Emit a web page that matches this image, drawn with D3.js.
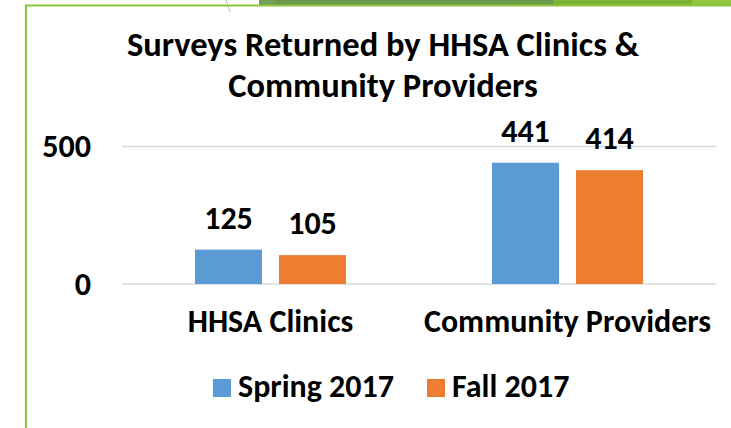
<!DOCTYPE html>
<html><head><meta charset="utf-8">
<script src="https://cdn.jsdelivr.net/npm/d3@7"></script>
<style>html,body{margin:0;padding:0;background:#fff;}svg{display:block;}</style>
</head><body>
<script>
const categories = ["HHSA Clinics", "Community Providers"];
const seriesNames = ["Spring 2017", "Fall 2017"];
const spring2017 = [125, 441];
const fall2017 = [105, 414];
const yTicks = [0, 500];
const titleLines = ["Surveys Returned by HHSA Clinics &", "Community Providers"];
const colors = ["#5b9bd5", "#ed7d31"];

const seriesValues = [spring2017, fall2017];
const W = 731, H = 428;
const FONT = "Carlito, Calibri, Lato, 'Open Sans', sans-serif";
const svg = d3.select("body").append("svg").attr("width", W).attr("height", H);

// slide decoration
const deco = svg.append("g");
const bands = [[259,275,"#74a05a"],[275,516,"#6b9a4c"],[516,553,"#6a9a48"],[553,692,"#7db332"],[692,731,"#8fc63e"]];
deco.selectAll("rect.band").data(bands).join("rect").attr("class","band")
  .attr("x",d=>d[0]).attr("y",0).attr("width",d=>d[1]-d[0]).attr("height",5).attr("fill",d=>d[2]);
deco.append("path").attr("d","M226,0 Q228,6 230,12").attr("fill","none").attr("stroke","#bdbdbd").attr("stroke-width",1);
deco.append("path").attr("d","M26,428 V5.5 H731").attr("fill","none").attr("stroke","#8dc43c").attr("stroke-width",2.2);

const x0 = d3.scaleBand().domain(categories).range([122, 716]).paddingInner(0).paddingOuter(0);
const x1 = d3.scaleBand().domain(seriesNames).range([0, x0.bandwidth()]).paddingInner(0.2024).paddingOuter(0.869);
const y = d3.scaleLinear().domain([0, 500]).range([284, 146.5]);

// gridlines
svg.append("g").selectAll("line").data(yTicks).join("line")
  .attr("x1", 122).attr("x2", 716).attr("y1", d=>y(d)).attr("y2", d=>y(d))
  .attr("stroke", "#d9d9d9").attr("stroke-width", 1.5);

// y tick labels
svg.append("g").selectAll("text").data(yTicks).join("text")
  .attr("x", 91).attr("y", d=>y(d)).attr("dy","0.34em").attr("text-anchor","end")
  .attr("font-family", FONT).attr("font-weight","bold").attr("font-size", 32).attr("fill","#000")
  .text(d=>d);

// bars
const groups = svg.append("g").selectAll("g").data(categories).join("g")
  .attr("transform", c=>`translate(${x0(c)},0)`);
groups.selectAll("rect").data((c,i)=>seriesNames.map((s,j)=>({s, j, v: seriesValues[j][i]})))
  .join("rect")
  .attr("x", d=>x1(d.s)).attr("width", x1.bandwidth())
  .attr("y", d=>y(d.v)).attr("height", d=>y(0)-y(d.v))
  .attr("fill", d=>colors[d.j]);
groups.selectAll("text").data((c,i)=>seriesNames.map((s,j)=>({s, j, v: seriesValues[j][i]})))
  .join("text")
  .attr("x", d=>x1(d.s)+x1.bandwidth()/2).attr("y", d=>y(d.v)-21)
  .attr("text-anchor","middle").attr("font-family", FONT).attr("font-weight","bold")
  .attr("font-size", 32).attr("fill","#000").text(d=>d.v);

// category labels
svg.append("g").selectAll("text").data(categories).join("text")
  .attr("x", c=>x0(c)+x0.bandwidth()/2).attr("y", 332).attr("text-anchor","middle")
  .attr("font-family", FONT).attr("font-weight","bold").attr("font-size", 32).attr("fill","#000")
  .text(c=>c);

// title
svg.append("g").selectAll("text").data(titleLines).join("text")
  .attr("x", 383).attr("y",(d,i)=>56+i*41).attr("text-anchor","middle")
  .attr("font-family", FONT).attr("font-weight","bold").attr("font-size", 34.5).attr("fill","#000")
  .text(d=>d);

// legend
const legX = [213, 427];
const leg = svg.append("g").selectAll("g").data(seriesNames).join("g")
  .attr("transform",(d,i)=>`translate(${legX[i]},379)`);
leg.append("rect").attr("width",18).attr("height",18).attr("fill",(d,i)=>colors[i]);
leg.append("text").attr("x",25).attr("y",18).attr("font-family",FONT).attr("font-weight","bold")
  .attr("font-size",32).attr("fill","#000").text(d=>d);
</script>
</body></html>
